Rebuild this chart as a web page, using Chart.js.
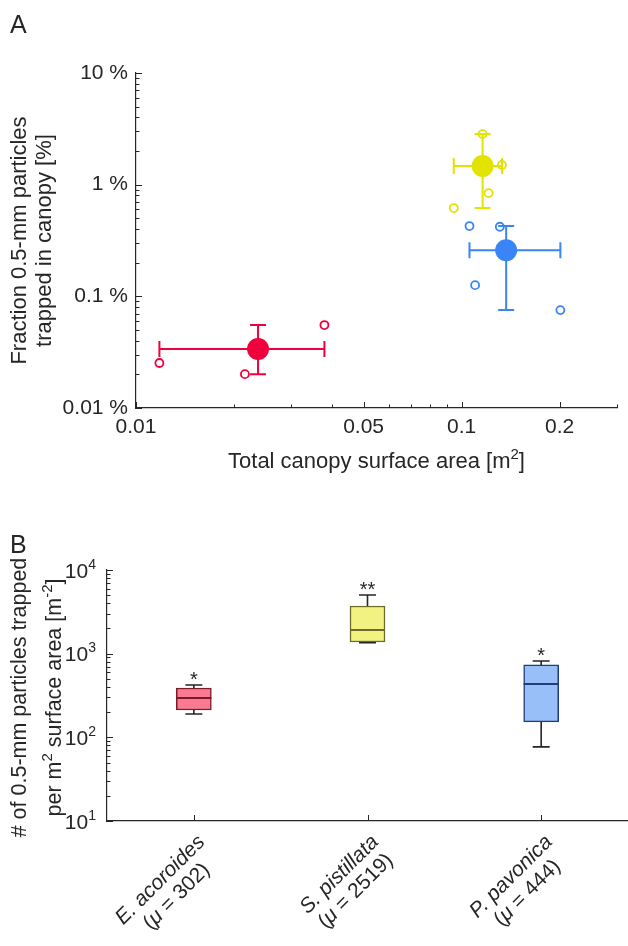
<!DOCTYPE html>
<html><head><meta charset="utf-8">
<script src="https://cdn.jsdelivr.net/npm/chart.js@4"></script>
<style>
html,body{margin:0;padding:0;background:#fff;}
#wrap{position:relative;width:628px;height:946px;overflow:hidden;}
#cA{position:absolute;left:0;top:0;}
#cB{position:absolute;left:0;top:500px;}
</style></head><body>
<div id="wrap"><canvas id="cA" width="628" height="500"></canvas><canvas id="cB" width="628" height="446"></canvas></div>
<script>
// ---------- data ----------
const species = ['E. acoroides', 'S. pistillata', 'P. pavonica'];
const speciesMeans = ['302', '2519', '444'];
// Panel A: individual replicates (area m^2, fraction %)
const areaE = [0.0118, 0.0216, 0.0379];
const fracE = [0.0253, 0.0201, 0.0553];
const areaS = [0.116, 0.133, 0.121, 0.0946];
const fracS = [2.84, 1.50, 0.841, 0.617];
const areaP = [0.1057, 0.131, 0.110, 0.201];
const fracP = [0.426, 0.42, 0.126, 0.0753];
// Panel A: means and ranges
const meanArea = [0.0237, 0.116, 0.137];
const meanFrac = [0.0337, 1.47, 0.259];
const areaLow = [0.0118, 0.0946, 0.1057];
const areaHigh = [0.0379, 0.133, 0.201];
const fracLow = [0.0201, 0.617, 0.0753];
const fracHigh = [0.0553, 2.84, 0.426];
const xTicksA = [0.01, 0.05, 0.1, 0.2];
const xTickLabelsA = ['0.01', '0.05', '0.1', '0.2'];
const yTicksA = [0.01, 0.1, 1, 10];
const yTickLabelsA = ['0.01 %', '0.1 %', '1 %', '10 %'];
// Panel B: box plots
const whiskerLow = [190, 1350, 77];
const q1 = [212, 1380, 153];
const median = [296, 1919, 434];
const q3 = [389, 3715, 733];
const whiskerHigh = [423, 5025, 818];
const significance = ['*', '**', '*'];
const yTicksB = [10, 100, 1000, 10000];
const yTickBaseB = ['10', '10', '10', '10'];
const yTickExpB = ['1', '2', '3', '4'];

// ---------- styles ----------
const FONT = '"Liberation Sans", Arial, Helvetica, sans-serif';
const TXT = '#262626';
const colA = ['#f0003c', '#e3e300', '#3a85f5'];
const boxFill = ['#fa7a93', '#f2f283', '#98bff8'];
const boxEdge = ['#7a1a2c', '#6b6b2a', '#1f3d78'];
const TITLE = 22;

function fontFor(s, size) {
  const sz = s.sup ? Math.round(size * 0.68) : size;
  return (s.it ? 'italic ' : '') + sz + 'px ' + FONT;
}
function richWidth(ctx, segs, size) {
  let w = 0;
  for (const s of segs) { ctx.font = fontFor(s, size); w += ctx.measureText(s.t).width; }
  return w;
}
function drawRich(ctx, segs, x, y, size, align) {
  const w = richWidth(ctx, segs, size);
  let cx = align === 'center' ? x - w / 2 : align === 'right' ? x - w : x;
  ctx.textAlign = 'left'; ctx.textBaseline = 'alphabetic';
  for (const s of segs) {
    ctx.font = fontFor(s, size);
    ctx.fillText(s.t, cx, y - (s.sup ? size * 0.42 : 0));
    cx += ctx.measureText(s.t).width;
  }
  return w;
}
function logTicks(min, max) {
  const out = [];
  for (let d = Math.floor(Math.log10(min)) ; d <= Math.ceil(Math.log10(max)); d++) {
    for (let k = 1; k < 10; k++) {
      const v = k * Math.pow(10, d);
      if (v >= min * 0.999 && v <= max * 1.001) out.push(v);
    }
  }
  return out;
}
const near = (a, b) => Math.abs(a - b) / b < 1e-6;

// ---------- Panel A ----------
const pluginA = {
  id: 'panelA',
  beforeDatasetsDraw(chart) {
    const ctx = chart.ctx, xs = chart.scales.x, ys = chart.scales.y;
    ctx.save();
    ctx.lineWidth = 2;
    for (let i = 0; i < species.length; i++) {
      ctx.strokeStyle = colA[i];
      const cx = xs.getPixelForValue(meanArea[i]), cy = ys.getPixelForValue(meanFrac[i]);
      const xl = xs.getPixelForValue(areaLow[i]), xh = xs.getPixelForValue(areaHigh[i]);
      const yl = ys.getPixelForValue(fracLow[i]), yh = ys.getPixelForValue(fracHigh[i]);
      ctx.beginPath();
      ctx.moveTo(xl, cy); ctx.lineTo(xh, cy);
      ctx.moveTo(xl, cy - 8); ctx.lineTo(xl, cy + 8);
      ctx.moveTo(xh, cy - 8); ctx.lineTo(xh, cy + 8);
      ctx.moveTo(cx, yl); ctx.lineTo(cx, yh);
      ctx.moveTo(cx - 8, yl); ctx.lineTo(cx + 8, yl);
      ctx.moveTo(cx - 8, yh); ctx.lineTo(cx + 8, yh);
      ctx.stroke();
    }
    ctx.restore();
  },
  afterDraw(chart) {
    const ctx = chart.ctx, xs = chart.scales.x, ys = chart.scales.y, a = chart.chartArea;
    ctx.save();
    ctx.strokeStyle = TXT; ctx.lineWidth = 1;
    ctx.beginPath();
    for (const v of logTicks(xs.min, xs.max)) {
      const px = Math.round(xs.getPixelForValue(v)) + 0.5;
      const len = xTicksA.some(t => near(v, t)) ? 6 : 3.5;
      ctx.moveTo(px, a.bottom); ctx.lineTo(px, a.bottom - len);
    }
    for (const v of logTicks(ys.min, ys.max)) {
      const py = Math.round(ys.getPixelForValue(v)) + 0.5;
      const len = yTicksA.some(t => near(v, t)) ? 6 : 3.5;
      ctx.moveTo(a.left, py); ctx.lineTo(a.left + len, py);
    }
    ctx.stroke();
    ctx.fillStyle = TXT;
    // panel letter
    ctx.font = '25px ' + FONT; ctx.textAlign = 'left'; ctx.textBaseline = 'alphabetic';
    ctx.fillText('A', 10, 33);
    // y title (two lines)
    const cy = (a.top + a.bottom) / 2;
    ctx.save(); ctx.translate(26, cy); ctx.rotate(-Math.PI / 2);
    drawRich(ctx, [{t: 'Fraction 0.5-mm particles'}], 0, 0, TITLE, 'center');
    ctx.restore();
    ctx.save(); ctx.translate(51, cy); ctx.rotate(-Math.PI / 2);
    drawRich(ctx, [{t: 'trapped in canopy [%]'}], 0, 0, TITLE, 'center');
    ctx.restore();
    // x title
    drawRich(ctx, [{t: 'Total canopy surface area [m'}, {t: '2', sup: true}, {t: ']'}], (a.left + a.right) / 2, 468, TITLE, 'center');
    ctx.restore();
  }
};

const dsA = [];
[[areaE, fracE], [areaS, fracS], [areaP, fracP]].forEach((p, i) => {
  dsA.push({
    label: species[i] + ' replicates',
    data: p[0].map((x, j) => ({x: x, y: p[1][j]})),
    pointRadius: 4, pointBorderWidth: 1.8,
    pointBackgroundColor: 'rgba(0,0,0,0)', pointBorderColor: colA[i],
    showLine: false, order: 2
  });
});
meanArea.forEach((x, i) => {
  dsA.push({
    label: species[i] + ' mean',
    data: [{x: x, y: meanFrac[i]}],
    pointRadius: 11, pointBorderWidth: 0,
    pointBackgroundColor: colA[i], pointBorderColor: colA[i],
    showLine: false, order: 1
  });
});

new Chart(document.getElementById('cA'), {
  type: 'scatter',
  data: {datasets: dsA},
  options: {
    responsive: false, animation: false,
    layout: {padding: {top: 73, right: 6, left: 0, bottom: 0}},
    plugins: {legend: {display: false}, tooltip: {enabled: false}},
    scales: {
      x: {
        type: 'logarithmic', min: 0.01, max: 0.3,
        grid: {display: false, drawTicks: false},
        border: {display: true, color: TXT, width: 1.2},
        afterBuildTicks: s => { s.ticks = xTicksA.map(v => ({value: v})); },
        afterFit: s => { s.height = 92; },
        ticks: {autoSkip: false, maxRotation: 0, minRotation: 0, padding: 7, color: TXT,
          font: {family: FONT, size: 21},
          callback: (v, i) => xTickLabelsA[i]}
      },
      y: {
        type: 'logarithmic', min: 0.01, max: 10,
        grid: {display: false, drawTicks: false},
        border: {display: true, color: TXT, width: 1.2},
        afterBuildTicks: s => { s.ticks = yTicksA.map(v => ({value: v})); },
        afterFit: s => { s.width = 136; },
        ticks: {autoSkip: false, padding: 8, color: TXT,
          font: {family: FONT, size: 21},
          callback: (v, i) => yTickLabelsA[i]}
      }
    }
  },
  plugins: [pluginA]
});

// ---------- Panel B ----------
const pluginB = {
  id: 'panelB',
  afterDatasetsDraw(chart) {
    const ctx = chart.ctx, xs = chart.scales.x, ys = chart.scales.y;
    ctx.save();
    for (let i = 0; i < species.length; i++) {
      const x = xs.getPixelForValue(i);
      const yq1 = ys.getPixelForValue(q1[i]), yq3 = ys.getPixelForValue(q3[i]);
      const ylo = ys.getPixelForValue(whiskerLow[i]), yhi = ys.getPixelForValue(whiskerHigh[i]);
      ctx.strokeStyle = TXT; ctx.lineWidth = 1.6;
      ctx.beginPath();
      ctx.moveTo(x, yq3); ctx.lineTo(x, yhi);
      ctx.moveTo(x - 8.5, yhi); ctx.lineTo(x + 8.5, yhi);
      ctx.moveTo(x, yq1); ctx.lineTo(x, ylo);
      ctx.moveTo(x - 8.5, ylo); ctx.lineTo(x + 8.5, ylo);
      ctx.stroke();
      const ym = ys.getPixelForValue(median[i]);
      ctx.strokeStyle = boxEdge[i]; ctx.lineWidth = 2;
      ctx.beginPath(); ctx.moveTo(x - 17.5, ym); ctx.lineTo(x + 17.5, ym); ctx.stroke();
      // significance stars
      ctx.fillStyle = TXT; ctx.font = '20px ' + FONT; ctx.textAlign = 'center'; ctx.textBaseline = 'alphabetic';
      ctx.fillText(significance[i], x, yhi + 1);
    }
    ctx.restore();
  },
  afterDraw(chart) {
    const ctx = chart.ctx, xs = chart.scales.x, ys = chart.scales.y, a = chart.chartArea;
    ctx.save();
    ctx.strokeStyle = TXT; ctx.lineWidth = 1;
    ctx.beginPath();
    for (let i = 0; i < species.length; i++) {
      const px = Math.round(xs.getPixelForValue(i)) + 0.5;
      ctx.moveTo(px, a.bottom); ctx.lineTo(px, a.bottom - 6);
    }
    for (const v of logTicks(ys.min, ys.max)) {
      const py = Math.round(ys.getPixelForValue(v)) + 0.5;
      const len = yTicksB.some(t => near(v, t)) ? 6 : 3.5;
      ctx.moveTo(a.left, py); ctx.lineTo(a.left + len, py);
    }
    ctx.stroke();
    ctx.fillStyle = TXT;
    // y tick labels 10^n
    yTicksB.forEach((v, i) => {
      const py = ys.getPixelForValue(v);
      drawRich(ctx, [{t: yTickBaseB[i]}, {t: yTickExpB[i], sup: true}], a.left - 11, py + 7.5, 21, 'right');
    });
    // x tick labels (rotated, two lines, centred)
    species.forEach((name, i) => {
      const x = xs.getPixelForValue(i);
      const l1 = [{t: name, it: true}];
      const l2 = [{t: '('}, {t: 'μ', it: true}, {t: ' = ' + speciesMeans[i] + ')'}];
      ctx.save();
      ctx.translate(x, a.bottom + 10);
      ctx.rotate(-Math.PI / 4);
      const w1 = richWidth(ctx, l1, 21), w2 = richWidth(ctx, l2, 21), W = Math.max(w1, w2);
      drawRich(ctx, l1, -W / 2, 17, 21, 'center');
      drawRich(ctx, l2, -W / 2, 40, 21, 'center');
      ctx.restore();
    });
    // panel letter
    ctx.font = '25px ' + FONT; ctx.textAlign = 'left'; ctx.textBaseline = 'alphabetic';
    ctx.fillText('B', 10, 53);
    // y title
    const cy = (a.top + a.bottom) / 2 + 2;
    ctx.save(); ctx.translate(26, cy); ctx.rotate(-Math.PI / 2);
    drawRich(ctx, [{t: '# of 0.5-mm particles trapped'}], 0, 0, 21.5, 'center');
    ctx.restore();
    ctx.save(); ctx.translate(61, cy); ctx.rotate(-Math.PI / 2);
    drawRich(ctx, [{t: 'per m'}, {t: '2', sup: true}, {t: ' surface area [m'}, {t: '-2', sup: true}, {t: ']'}], 0, 0, 21.5, 'center');
    ctx.restore();
    ctx.restore();
  }
};

new Chart(document.getElementById('cB'), {
  type: 'bar',
  data: {
    labels: species,
    datasets: [{
      label: 'Particles per m2',
      data: q1.map((v, i) => [v, q3[i]]),
      backgroundColor: boxFill, borderColor: boxEdge,
      borderWidth: 1.5, borderSkipped: false, barThickness: 35
    }]
  },
  options: {
    responsive: false, animation: false,
    layout: {padding: {top: 70, right: 0, left: 0, bottom: 0}},
    plugins: {legend: {display: false}, tooltip: {enabled: false}},
    scales: {
      x: {
        type: 'category', offset: true,
        grid: {display: false, drawTicks: false},
        border: {display: true, color: TXT, width: 1.2},
        afterFit: s => { s.height = 125; },
        ticks: {display: false}
      },
      y: {
        type: 'logarithmic', min: 10, max: 10000,
        grid: {display: false, drawTicks: false},
        border: {display: true, color: TXT, width: 1.2},
        afterBuildTicks: s => { s.ticks = yTicksB.map(v => ({value: v})); },
        afterFit: s => { s.width = 107; },
        ticks: {display: false}
      }
    }
  },
  plugins: [pluginB]
});
</script>
</body></html>
